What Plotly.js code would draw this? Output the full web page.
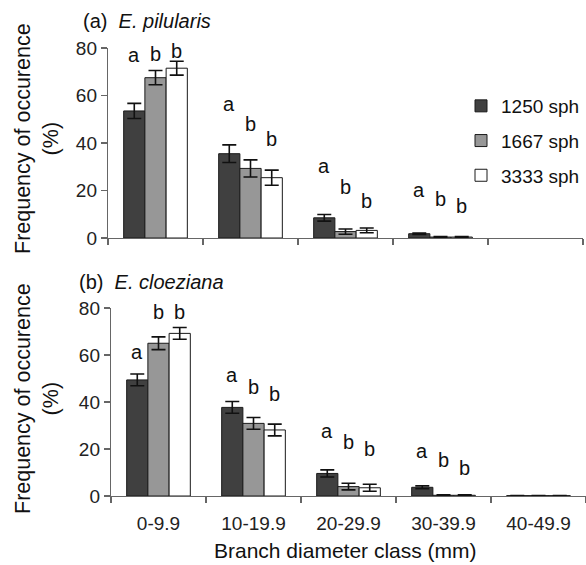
<!DOCTYPE html>
<html>
<head>
<meta charset="utf-8">
<script src="https://cdn.plot.ly/plotly-3.0.1.min.js"></script>
<style>html,body{margin:0;padding:0;background:#fff;}#chart{width:586px;height:565px;}</style>
</head>
<body>
<div id="chart"></div>
<script>
// ---- data ----
const categories = ['0-9.9', '10-19.9', '20-29.9', '30-39.9', '40-49.9'];
const seriesNames = ['1250 sph', '1667 sph', '3333 sph'];

// (a) E. pilularis (last class: no occurrence recorded, nothing drawn)
const pilularis1250 = [53.5, 35.5, 8.5, 1.8, null];
const pilularis1250Err = [3.2, 3.7, 1.4, 0.3, null];
const pilularis1667 = [67.5, 29.3, 2.7, 0.4, null];
const pilularis1667Err = [3.0, 3.6, 1.1, 0.2, null];
const pilularis3333 = [71.5, 25.4, 3.2, 0.4, null];
const pilularis3333Err = [2.9, 3.2, 1.0, 0.2, null];

// (b) E. cloeziana
const cloeziana1250 = [49.4, 37.7, 9.6, 3.7, 0.15];
const cloeziana1250Err = [2.5, 2.5, 1.5, 0.6, null];
const cloeziana1667 = [65.0, 30.9, 4.0, 0.3, 0.15];
const cloeziana1667Err = [2.7, 2.5, 1.4, 0.2, null];
const cloeziana3333 = [69.2, 28.1, 3.5, 0.3, 0.15];
const cloeziana3333Err = [2.5, 2.5, 1.5, 0.2, null];

// significance letters (per series, per category) and their baseline heights
const letters1250 = ['a', 'a', 'a', 'a'];
const letters1667 = ['b', 'b', 'b', 'b'];
const letters3333 = ['b', 'b', 'b', 'b'];
const pilularisLetterY1250 = [73.8, 53.2, 26.9, 17.0];
const pilularisLetterY1667 = [74.1, 44.6, 18.1, 12.9];
const pilularisLetterY3333 = [75.4, 38.3, 12.1, 10.0];
const cloezianaLetterY1250 = [57.9, 48.0, 24.3, 15.7];
const cloezianaLetterY1667 = [74.9, 43.0, 19.6, 11.8];
const cloezianaLetterY3333 = [74.9, 40.1, 16.7, 8.5];

const yTicks = [0, 20, 40, 60, 80];

// ---- styling ----
const FONT = 'Liberation Sans, Arial, Helvetica, sans-serif';
const colors = ['#404040', '#979797', '#ffffff'];
const W = 586, H = 565;

function barTrace(name, y, err, idx, xa, ya, show) {
  return {
    type: 'bar', name: name, x: categories, y: y,
    xaxis: xa, yaxis: ya, legendgroup: 'g' + idx, showlegend: show,
    marker: {color: colors[idx], line: {color: '#1a1a1a', width: 1}},
    error_y: {type: 'data', array: err, visible: true, color: '#111', thickness: 1.6, width: 7},
    hoverinfo: 'x+y+name'
  };
}

const data = [
  barTrace(seriesNames[0], pilularis1250, pilularis1250Err, 0, 'x', 'y', true),
  barTrace(seriesNames[1], pilularis1667, pilularis1667Err, 1, 'x', 'y', true),
  barTrace(seriesNames[2], pilularis3333, pilularis3333Err, 2, 'x', 'y', true),
  barTrace(seriesNames[0], cloeziana1250, cloeziana1250Err, 0, 'x2', 'y2', false),
  barTrace(seriesNames[1], cloeziana1667, cloeziana1667Err, 1, 'x2', 'y2', false),
  barTrace(seriesNames[2], cloeziana3333, cloeziana3333Err, 2, 'x2', 'y2', false)
];

const annotations = [];
function addLetters(letters, ys, j, xref, yref) {
  letters.forEach(function (t, i) {
    annotations.push({
      x: categories[i], y: ys[i], xref: xref, yref: yref,
      text: t, showarrow: false, xanchor: 'center', yanchor: 'bottom',
      xshift: (j - 1) * 21.2, yshift: -5,
      font: {family: FONT, size: 20, color: '#111'}
    });
  });
}
addLetters(letters1250, pilularisLetterY1250, 0, 'x', 'y');
addLetters(letters1667, pilularisLetterY1667, 1, 'x', 'y');
addLetters(letters3333, pilularisLetterY3333, 2, 'x', 'y');
addLetters(letters1250, cloezianaLetterY1250, 0, 'x2', 'y2');
addLetters(letters1667, cloezianaLetterY1667, 1, 'x2', 'y2');
addLetters(letters3333, cloezianaLetterY3333, 2, 'x2', 'y2');

// panel titles
annotations.push({xref: 'paper', yref: 'paper', x: 81 / W, y: 1 - 21 / H, xanchor: 'left', yanchor: 'middle',
  text: '(a)\u00a0 <i>E. pilularis</i>', showarrow: false, font: {family: FONT, size: 20, color: '#111'}});
annotations.push({xref: 'paper', yref: 'paper', x: 77 / W, y: 1 - 282 / H, xanchor: 'left', yanchor: 'middle',
  text: '(b)\u00a0 <i>E. cloeziana</i>', showarrow: false, font: {family: FONT, size: 20, color: '#111'}});
// axis titles
const yTitle = 'Frequency of occurence<br>(%)';
annotations.push({xref: 'paper', yref: 'paper', x: 37 / W, y: 1 - 139 / H, xanchor: 'center', yanchor: 'middle',
  text: yTitle, textangle: -90, showarrow: false, font: {family: FONT, size: 21.5, color: '#111'}});
annotations.push({xref: 'paper', yref: 'paper', x: 37 / W, y: 1 - 399 / H, xanchor: 'center', yanchor: 'middle',
  text: yTitle, textangle: -90, showarrow: false, font: {family: FONT, size: 21.5, color: '#111'}});
annotations.push({xref: 'paper', yref: 'paper', x: 345 / W, y: 1 - 550 / H, xanchor: 'center', yanchor: 'middle',
  text: 'Branch diameter class (mm)', showarrow: false, font: {family: FONT, size: 21, color: '#111'}});

const axisCommon = {
  showline: true, linecolor: '#666', linewidth: 1.2, showgrid: false, zeroline: false,
  ticks: 'outside', tickcolor: '#666', tickwidth: 1.2, ticklen: 6, automargin: false,
  tickfont: {family: FONT, size: 19, color: '#222'}
};

const layout = {
  width: W, height: H,
  margin: {l: 0, r: 0, t: 0, b: 0},
  paper_bgcolor: '#fff', plot_bgcolor: '#fff',
  barmode: 'group', bargap: 0.33, bargroupgap: 0,
  font: {family: FONT, color: '#111'},
  showlegend: true,
  legend: {x: 461 / W, y: 1 - 87 / H, xanchor: 'left', yanchor: 'top',
    font: {family: FONT, size: 19, color: '#111'}, bgcolor: 'rgba(0,0,0,0)',
    traceorder: 'grouped', tracegroupgap: 7},
  xaxis: Object.assign({}, axisCommon, {domain: [108 / W, 583 / W], anchor: 'y', type: 'category',
    tickson: 'boundaries', showticklabels: false}),
  yaxis: Object.assign({}, axisCommon, {domain: [1 - 238 / H, 1 - 48 / H], anchor: 'x', range: [0, 80],
    tickvals: yTicks, ticktext: yTicks.map(String)}),
  xaxis2: Object.assign({}, axisCommon, {domain: [111 / W, 1], anchor: 'y2', type: 'category',
    tickson: 'boundaries', ticklabelstandoff: 10}),
  yaxis2: Object.assign({}, axisCommon, {domain: [1 - 496 / H, 1 - 308 / H], anchor: 'x2', range: [0, 80],
    tickvals: yTicks, ticktext: yTicks.map(String)}),
  annotations: annotations
};

Plotly.newPlot('chart', data, layout, {displayModeBar: false, staticPlot: true});
</script>
</body>
</html>
